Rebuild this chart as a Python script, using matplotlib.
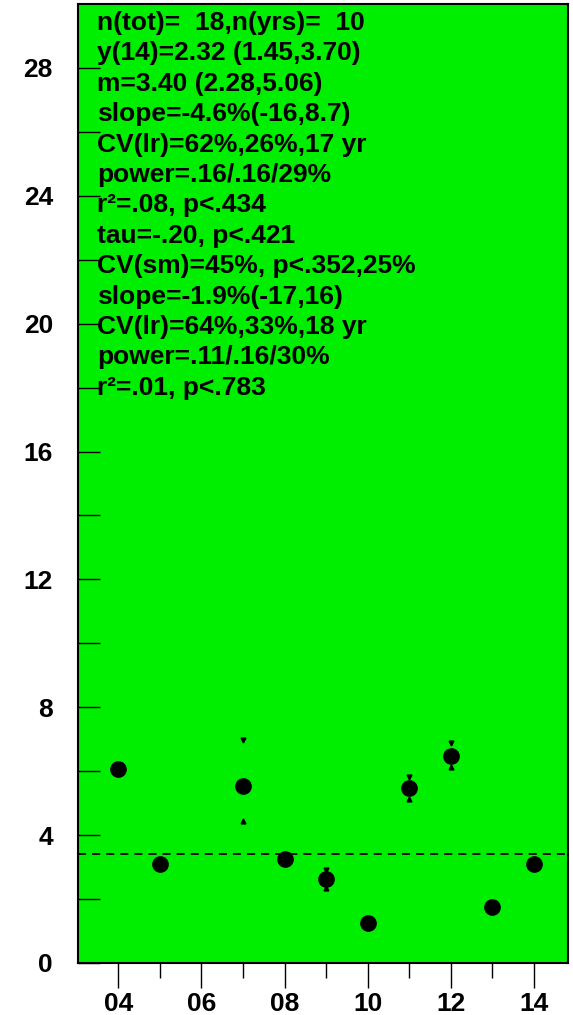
import matplotlib
matplotlib.use("Agg")
import matplotlib.pyplot as plt
import numpy as np

# Annual values (two-digit years) with their spread
years = [4, 5, 7, 8, 9, 10, 11, 12, 13, 14]
values = [6.07, 3.10, 5.55, 3.25, 2.63, 1.25, 5.47, 6.49, 1.76, 3.10]
upper = [None, None, 6.98, None, 2.92, None, 5.83, 6.88, None, None]
lower = [None, None, 4.43, None, 2.34, None, 5.12, 6.13, None, None]
mean_level = 3.40

stats_lines = [
    "n(tot)=  18,n(yrs)=  10",
    "y(14)=2.32 (1.45,3.70)",
    "m=3.40 (2.28,5.06)",
    "slope=-4.6%(-16,8.7)",
    "CV(lr)=62%,26%,17 yr",
    "power=.16/.16/29%",
    "r\u00b2=.08, p<.434",
    "tau=-.20, p<.421",
    "CV(sm)=45%, p<.352,25%",
    "slope=-1.9%(-17,16)",
    "CV(lr)=64%,33%,18 yr",
    "power=.11/.16/30%",
    "r\u00b2=.01, p<.783",
]

y_major = [0, 4, 8, 12, 16, 20, 24, 28]
x_major = [4, 6, 8, 10, 12, 14]

plt.rcParams["font.family"] = ["Liberation Sans", "DejaVu Sans"]
plt.rcParams["font.weight"] = "bold"

W, H = 573, 1015
fig = plt.figure(figsize=(W / 100, H / 100), dpi=100)
ax = fig.add_axes([78 / W, (H - 963) / H, (568 - 78) / W, (963 - 4) / H])
ax.set_facecolor("#00ee00")

ax.set_xlim(3.03, 14.82)
ax.set_ylim(0, 30)

for s in ax.spines.values():
    s.set_linewidth(1.5)
    s.set_color("black")

ax.axhline(mean_level, color="black", lw=1.3, dashes=(4.5, 3.3))

ax.plot(years, values, "o", color="black", ms=11, zorder=3)
for x, hi, lo in zip(years, upper, lower):
    if hi is not None:
        ax.plot([x], [hi], marker="v", color="black", ms=3.5, ls="none", zorder=3)
        ax.plot([x], [lo], marker="^", color="black", ms=3.5, ls="none", zorder=3)

ax.set_yticks(y_major)
ax.set_yticks(np.arange(2, 30, 4), minor=True)
ax.yaxis.set_ticks_position("left")
ax.tick_params(axis="y", which="both", direction="in", length=16, width=1,
               pad=18, labelsize=19)
ax.set_yticklabels([str(v) for v in y_major], fontweight="bold")

ax.set_xticks(x_major)
ax.set_xticks([5, 7, 9, 11, 13], minor=True)
ax.xaxis.set_ticks_position("bottom")
ax.tick_params(axis="x", which="major", direction="out", length=18, width=1,
               pad=3, labelsize=19)
ax.tick_params(axis="x", which="minor", direction="out", length=11, width=1)
ax.set_xticklabels(["%02d" % v for v in x_major], fontweight="bold")

# statistics block, placed in pixel offsets from the top-left of the figure
for i, line in enumerate(stats_lines):
    ax.text(97, H - (23 + 30.4 * i), line, transform=None, fontsize=19,
            fontweight="bold", va="center", ha="left")

fig.savefig("out.png", dpi=100)
